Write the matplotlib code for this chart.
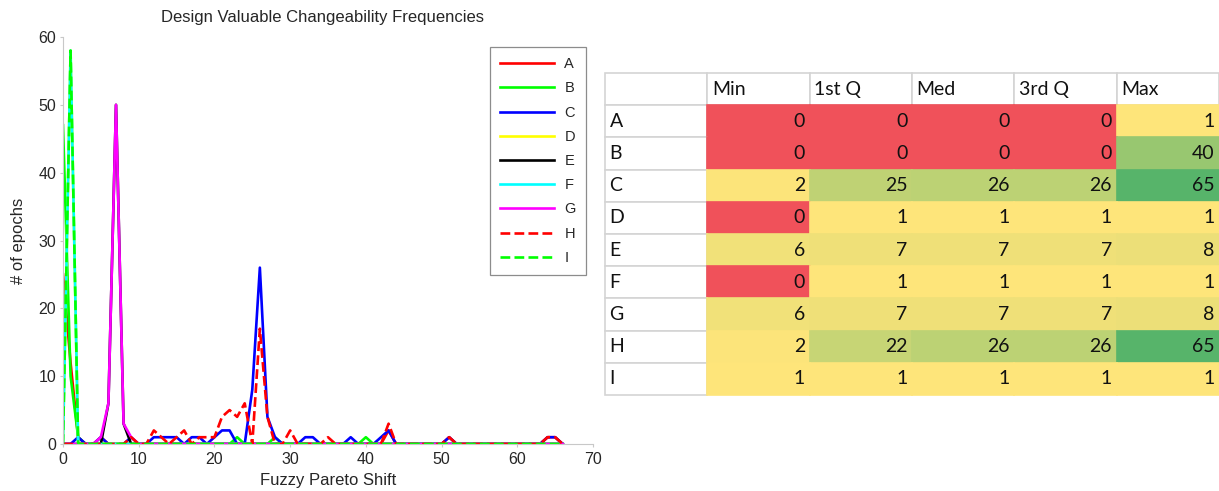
"""Design valuable changeability frequencies: line plot + quartile table."""
import matplotlib

matplotlib.use("Agg")
import matplotlib.pyplot as plt  # noqa: E402
from matplotlib.colors import LinearSegmentedColormap, TwoSlopeNorm  # noqa: E402
from matplotlib.table import Table  # noqa: E402

plt.rcParams["font.family"] = ["Liberation Sans", "DejaVu Sans"]

W, H = 1219, 491
DPI = 100

# Fuzzy Pareto shift 0..66, epochs per design
SHIFT = list(range(67))
A = [25, 12, 1, 0, 0, 1, 0, 0, 0, 0,
     0, 0, 0, 0, 0, 0, 0, 0, 0, 0,
     0, 0, 0, 0, 0, 0, 0, 0, 0, 0,
     0, 0, 0, 0, 0, 0, 0, 0, 0, 0,
     0, 0, 0, 2, 0, 0, 0, 0, 0, 0,
     0, 1, 0, 0, 0, 0, 0, 0, 0, 0,
     0, 0, 0, 0, 1, 1, 0]
B = [47, 10, 1, 0, 0, 0, 0, 0, 0, 0,
     0, 0, 0, 0, 0, 0, 0, 0, 0, 0,
     0, 0, 0, 1, 0, 0, 0, 0, 1, 0,
     0, 0, 0, 0, 0, 0, 0, 0, 0, 0,
     1, 0, 0, 0, 0, 0, 0, 0, 0, 0,
     0, 0, 0, 0, 0, 0, 0, 0, 0, 0,
     0, 0, 0, 0, 0, 0, 0]
C = [0, 0, 1, 0, 0, 1, 0, 0, 0, 1,
     0, 0, 1, 1, 1, 1, 0, 1, 1, 0,
     1, 2, 2, 0, 0, 8, 26, 4, 1, 0,
     0, 0, 1, 1, 0, 0, 0, 0, 1, 0,
     0, 0, 1, 2, 0, 0, 0, 0, 0, 0,
     0, 1, 0, 0, 0, 0, 0, 0, 0, 0,
     0, 0, 0, 0, 1, 1, 0]
D = [0, 58, 0, 0, 0, 0, 0, 0, 0, 0,
     0, 0, 0, 0, 0, 0, 0, 0, 0, 0,
     0, 0, 0, 0, 0, 0, 0, 0, 0, 0,
     0, 0, 0, 0, 0, 0, 0, 0, 0, 0,
     0, 0, 0, 0, 0, 0, 0, 0, 0, 0,
     0, 0, 0, 0, 0, 0, 0, 0, 0, 0,
     0, 0, 0, 0, 0, 0, 0]
E = [0, 0, 0, 0, 0, 0, 6, 50, 3, 0,
     0, 0, 0, 0, 0, 0, 0, 0, 0, 0,
     0, 0, 0, 0, 0, 0, 0, 0, 0, 0,
     0, 0, 0, 0, 0, 0, 0, 0, 0, 0,
     0, 0, 0, 0, 0, 0, 0, 0, 0, 0,
     0, 0, 0, 0, 0, 0, 0, 0, 0, 0,
     0, 0, 0, 0, 0, 0, 0]
F = [0, 58, 0, 0, 0, 0, 0, 0, 0, 0,
     0, 0, 0, 0, 0, 0, 0, 0, 0, 0,
     0, 0, 0, 0, 0, 0, 0, 0, 0, 0,
     0, 0, 0, 0, 0, 0, 0, 0, 0, 0,
     0, 0, 0, 0, 0, 0, 0, 0, 0, 0,
     0, 0, 0, 0, 0, 0, 0, 0, 0, 0,
     0, 0, 0, 0, 0, 0, 0]
G = [0, 0, 0, 0, 0, 1, 6, 50, 3, 1,
     0, 0, 0, 0, 0, 0, 0, 0, 0, 0,
     0, 0, 0, 0, 0, 0, 0, 0, 0, 0,
     0, 0, 0, 0, 0, 0, 0, 0, 0, 0,
     0, 0, 0, 0, 0, 0, 0, 0, 0, 0,
     0, 0, 0, 0, 0, 0, 0, 0, 0, 0,
     0, 0, 0, 0, 0, 0, 0]
H_ = [0, 0, 0, 0, 0, 0, 0, 0, 0, 1,
      0, 0, 2, 1, 0, 1, 2, 0, 1, 1,
      1, 4, 5, 4, 6, 0, 17, 4, 0, 0,
      2, 0, 0, 0, 0, 1, 0, 0, 0, 0,
      0, 0, 0, 3, 0, 0, 0, 0, 0, 0,
      0, 1, 0, 0, 0, 0, 0, 0, 0, 0,
      0, 0, 0, 0, 1, 1, 0]
I = [0, 58, 0, 0, 0, 0, 0, 0, 0, 0,
     0, 0, 0, 0, 0, 0, 0, 0, 0, 0,
     0, 0, 0, 0, 0, 0, 0, 0, 0, 0,
     0, 0, 0, 0, 0, 0, 0, 0, 0, 0,
     0, 0, 0, 0, 0, 0, 0, 0, 0, 0,
     0, 0, 0, 0, 0, 0, 0, 0, 0, 0,
     0, 0, 0, 0, 0, 0, 0]

DESIGNS = ["A", "B", "C", "D", "E", "F", "G", "H", "I"]
SERIES = [A, B, C, D, E, F, G, H_, I]
COLORS = ["#ff0000", "#00ff00", "#0000ff", "#ffff00", "#000000",
          "#00ffff", "#ff00ff", "#ff0000", "#00ff00"]
STYLES = ["-", "-", "-", "-", "-", "-", "-", "--", "--"]

# quartile table
STAT_COLS = ["Min", "1st Q", "Med", "3rd Q", "Max"]
MIN = [0, 0, 2, 0, 6, 0, 6, 2, 1]
Q1 = [0, 0, 25, 1, 7, 1, 7, 22, 1]
MED = [0, 0, 26, 1, 7, 1, 7, 26, 1]
Q3 = [0, 0, 26, 1, 7, 1, 7, 26, 1]
MAX = [1, 40, 65, 1, 8, 1, 8, 65, 1]

INK = "#262626"
GRID = "#d4d4d4"
SCALE = LinearSegmentedColormap.from_list("rdylgn", ["#f0515a", "#ffe57a", "#57b46a"])


def px(x, y, w, h):
    """Figure-fraction rect from pixel box (y measured from the top)."""
    return [x / W, (H - y - h) / H, w / W, h / H]


def draw_lines(fig):
    ax = fig.add_axes(px(63, 37, 530, 407))
    for name, vals, col, ls in zip(DESIGNS, SERIES, COLORS, STYLES):
        ax.plot(SHIFT, vals, color=col, linestyle=ls, linewidth=1.9, label=name)
    ax.set_xlim(0, 70)
    ax.set_ylim(0, 60)
    ax.set_xticks(range(0, 71, 10))
    ax.set_yticks(range(0, 61, 10))
    for spine in ("top", "right"):
        ax.spines[spine].set_visible(False)
    for spine in ("left", "bottom"):
        ax.spines[spine].set_color("#c8c8c8")
    ax.tick_params(colors="#c8c8c8", labelcolor=INK, labelsize=11.5, length=2)
    ax.tick_params(axis="y", pad=3)
    ax.tick_params(axis="x", pad=4)
    ax.set_xlabel("Fuzzy Pareto Shift", fontsize=12, color=INK, labelpad=4)
    ax.set_ylabel("# of epochs", fontsize=12, color=INK, labelpad=9)
    ax.set_title("Design Valuable Changeability Frequencies", fontsize=12,
                 color=INK, pad=11, x=0.49)
    leg = ax.legend(loc="upper right", bbox_to_anchor=(586 / W, (H - 47) / H),
                    bbox_transform=fig.transFigure, borderaxespad=0,
                    fontsize=10.5, handlelength=3.7, handletextpad=0.7,
                    labelspacing=0.7, borderpad=0.7, fancybox=False,
                    framealpha=1)
    leg.get_frame().set_edgecolor("#8c8c8c")
    leg.get_frame().set_linewidth(0.9)
    for t in leg.get_texts():
        t.set_color(INK)


def draw_table(fig):
    ax = fig.add_axes(px(605, 73, 614, 322))
    ax.set_axis_off()
    tbl = Table(ax, bbox=[0, 0, 1, 1])
    norm = TwoSlopeNorm(vmin=0, vcenter=1, vmax=65)
    columns = [MIN, Q1, MED, Q3, MAX]
    nrows, ncols = len(DESIGNS) + 1, len(STAT_COLS) + 1
    cw, ch = 1 / ncols, 1 / nrows

    def add(r, c, text, loc, face, edge):
        cell = tbl.add_cell(r, c, cw, ch, text=text, loc=loc,
                            facecolor=face, edgecolor=edge)
        cell.PAD = 0.045
        cell.set_linewidth(1.2)
        cell.get_text().set_fontsize(14)
        cell.get_text().set_fontfamily("Lato")
        cell.get_text().set_color("#111111")
        return cell

    add(0, 0, "", "left", "white", GRID)
    for c, name in enumerate(STAT_COLS, start=1):
        add(0, c, name, "left", "white", GRID)
    for r, name in enumerate(DESIGNS, start=1):
        add(r, 0, name, "left", "white", GRID)
        for c, col in enumerate(columns, start=1):
            face = SCALE(norm(col[r - 1]))
            add(r, c, str(col[r - 1]), "right", face, face)
    tbl.auto_set_font_size(False)
    ax.add_table(tbl)


def main():
    fig = plt.figure(figsize=(W / DPI, H / DPI), dpi=DPI)
    draw_lines(fig)
    draw_table(fig)
    fig.savefig("out.png", dpi=DPI, facecolor="white")
    plt.close(fig)


if __name__ == "__main__":
    main()
